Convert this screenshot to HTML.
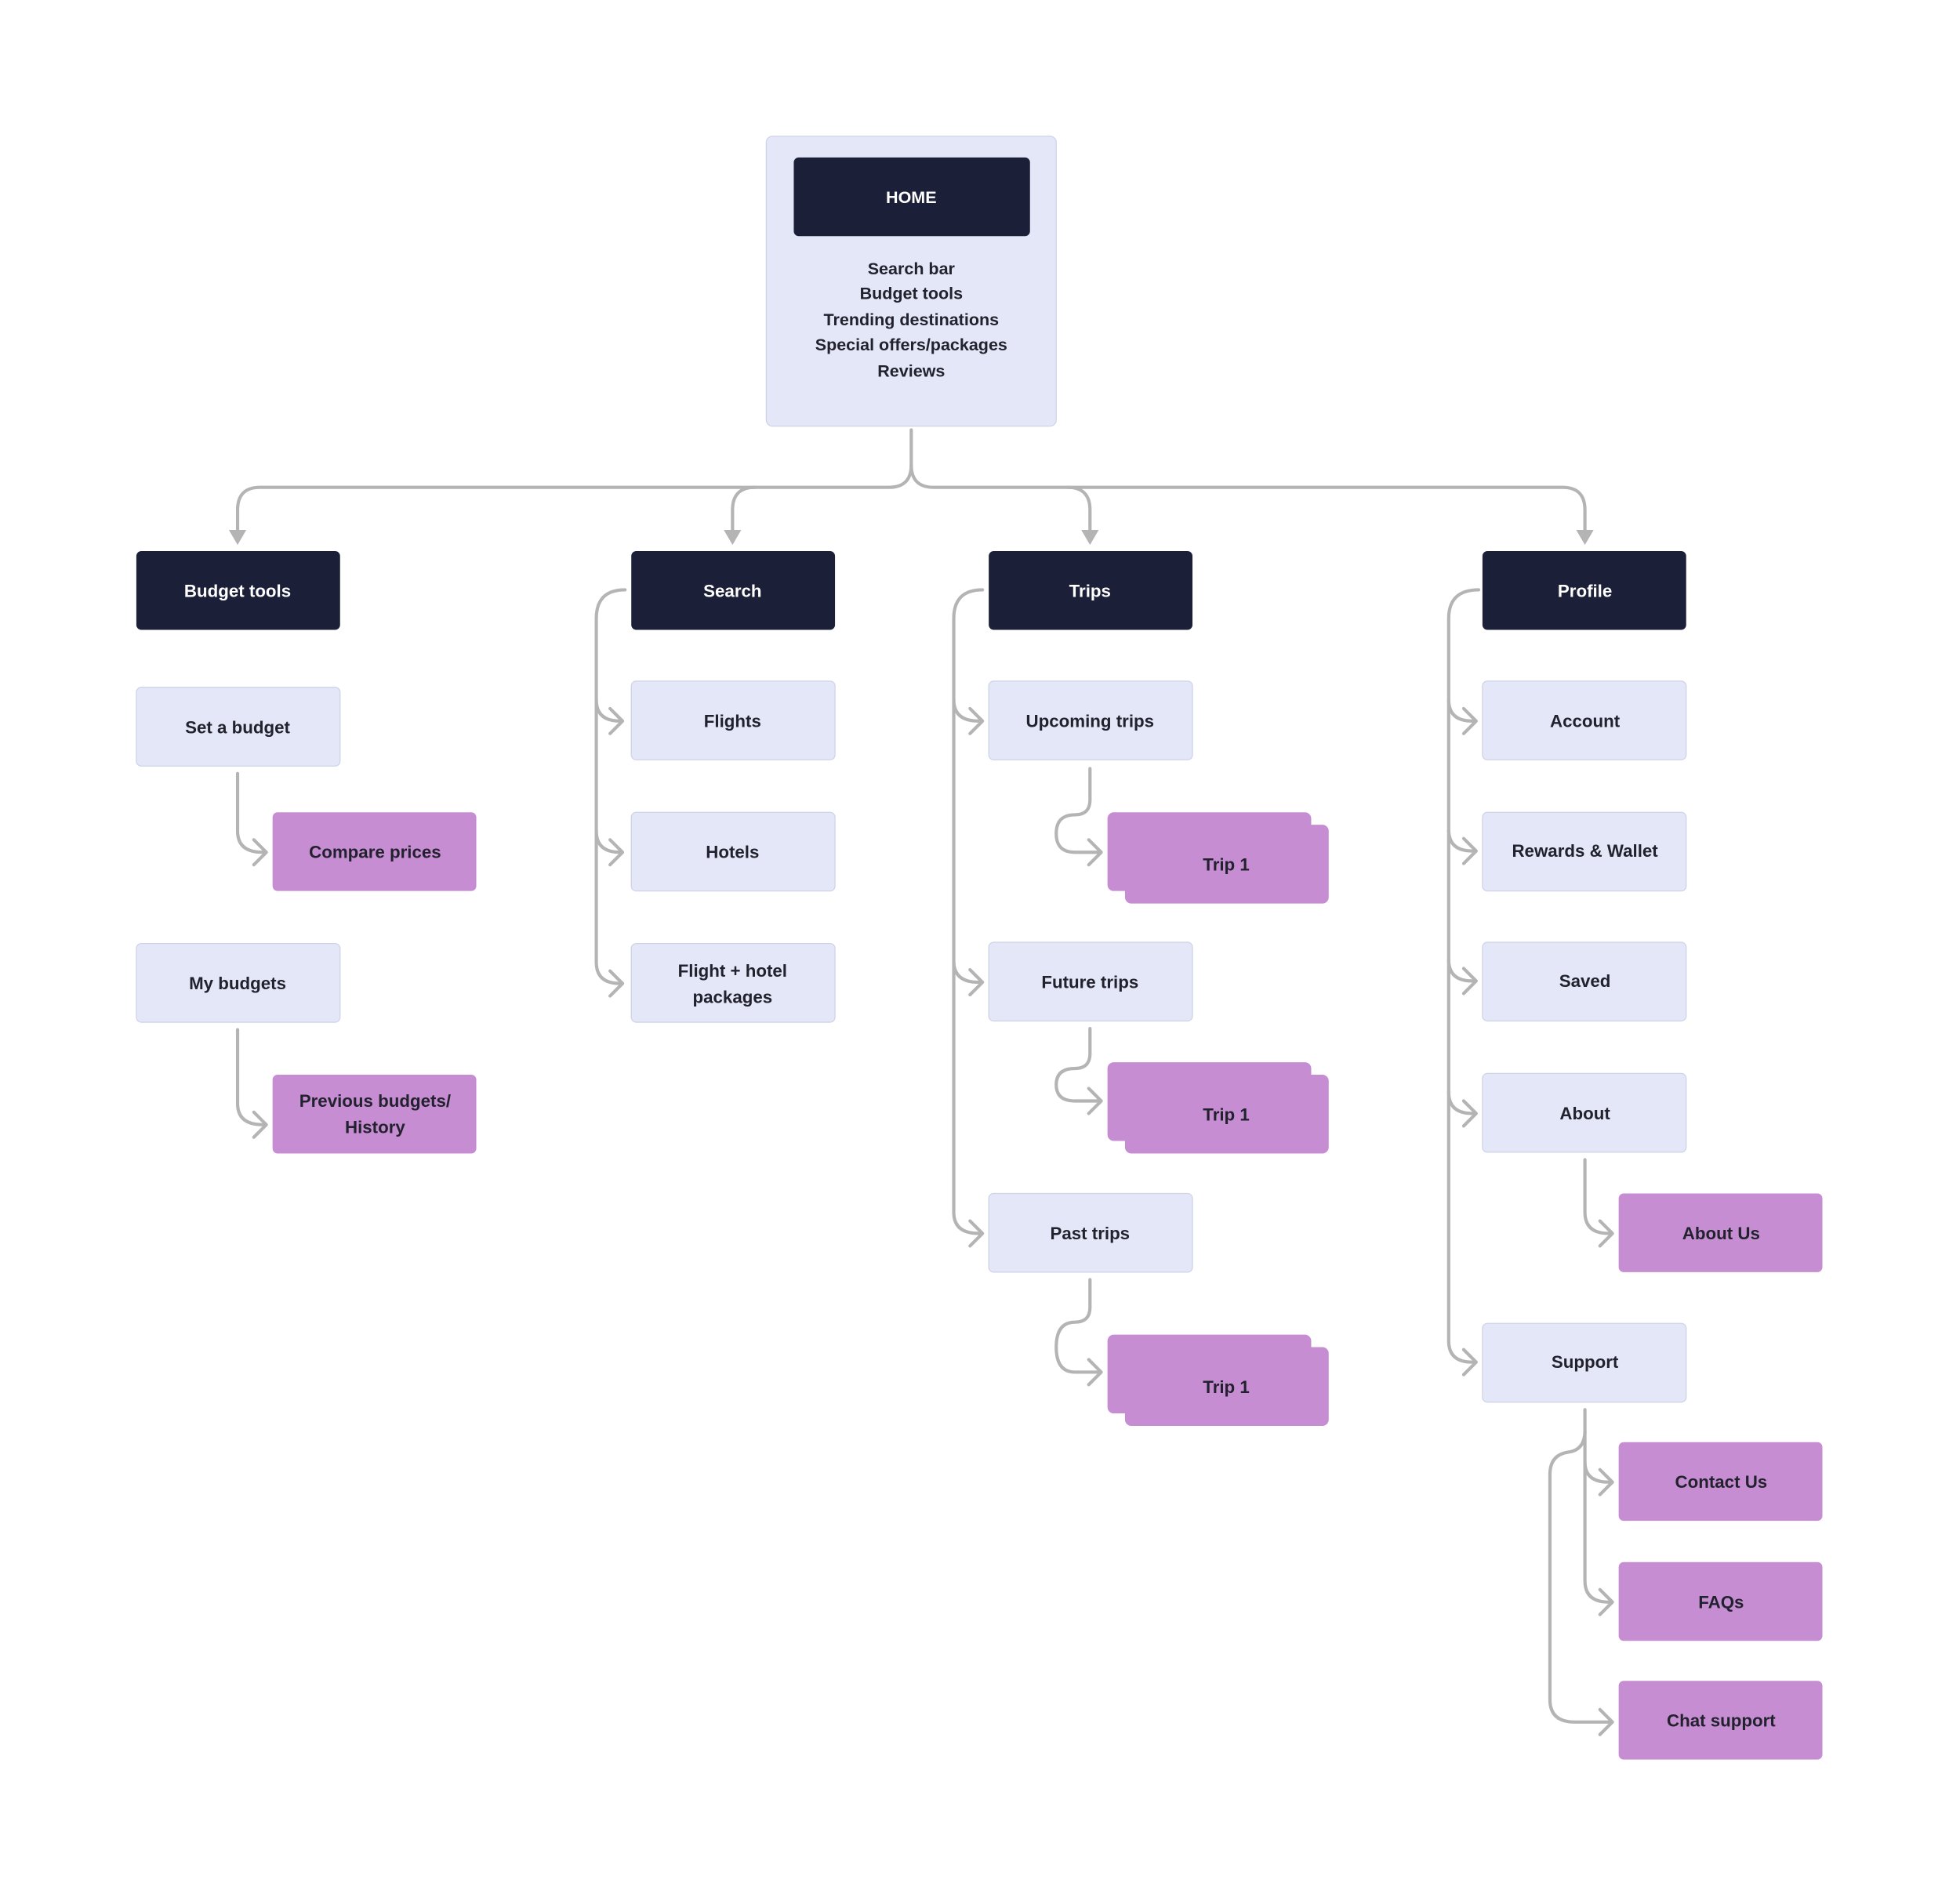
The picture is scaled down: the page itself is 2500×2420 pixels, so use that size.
<!DOCTYPE html>
<html><head><meta charset="utf-8"><style>
html,body{margin:0;padding:0;background:#fff;width:2500px;height:2420px;overflow:hidden}
text{font-family:"Liberation Sans",Arial,sans-serif;font-weight:bold;font-size:14px;text-anchor:middle;dominant-baseline:central}
.d{fill:#1c1f38}
.l{fill:#e4e7f8;stroke:#cfd3e6;stroke-width:0.8}
.p{fill:#c78dd3}
.c{fill:none;stroke:#b4b4b4;stroke-width:2.6;stroke-linecap:round;stroke-linejoin:round}
.tw{fill:#fff}
.tk{fill:#22222e}
</style></head><body>
<svg width="2500" height="2420" viewBox="0 0 1568 1518" xmlns="http://www.w3.org/2000/svg">
<!-- HOME -->
<rect class="l" x="613" y="109" width="232" height="232" rx="5"/>
<rect class="d" x="635" y="126" width="189" height="63" rx="4"/>
<text class="tw" x="729" y="158" style="font-size:13.5px">HOME</text>
<text class="tk" x="729" y="215" style="font-size:13.5px">Search bar</text>
<text class="tk" x="729" y="235" style="font-size:13.5px">Budget tools</text>
<text class="tk" x="729" y="256" style="font-size:13.5px">Trending destinations</text>
<text class="tk" x="729" y="276" style="font-size:13.5px">Special offers/packages</text>
<text class="tk" x="729" y="297" style="font-size:13.5px">Reviews</text>

<!-- top connectors -->
<path class="c" d="M729 344 V372 Q729 390 711 390 H208 Q190 390 190 408 V428"/>
<path class="c" d="M729 372 Q729 390 747 390 H1250 Q1268 390 1268 408 V428"/>
<path class="c" d="M604 390 Q586 390 586 408 V428"/>
<path class="c" d="M854 390 Q872 390 872 408 V428"/>
<polygon fill="#b4b4b4" points="183,424 197,424 190,436"/>
<polygon fill="#b4b4b4" points="579,424 593,424 586,436"/>
<polygon fill="#b4b4b4" points="865,424 879,424 872,436"/>
<polygon fill="#b4b4b4" points="1261,424 1275,424 1268,436"/>

<!-- Level 1 -->
<rect class="d" x="109" y="441" width="163" height="63" rx="4"/><text class="tw" x="190" y="473">Budget tools</text>
<rect class="d" x="505" y="441" width="163" height="63" rx="4"/><text class="tw" x="586" y="473">Search</text>
<rect class="d" x="791" y="441" width="163" height="63" rx="4"/><text class="tw" x="872" y="473">Trips</text>
<rect class="d" x="1186" y="441" width="163" height="63" rx="4"/><text class="tw" x="1268" y="473">Profile</text>

<!-- Budget tools -->
<rect class="l" x="109" y="550" width="163" height="63" rx="4"/><text class="tk" x="190" y="582">Set a budget</text>
<rect class="p" x="218" y="650" width="163" height="63" rx="4"/><text class="tk" x="300" y="682">Compare prices</text>
<rect class="l" x="109" y="755" width="163" height="63" rx="4"/><text class="tk" x="190" y="787">My budgets</text>
<rect class="p" x="218" y="860" width="163" height="63" rx="4"/><text class="tk" x="300" y="881">Previous budgets/</text><text class="tk" x="300" y="902">History</text>
<path class="c" d="M190 619 V665 Q190 682 210 682"/><path class="c" d="M203 672 L213 682 L203 692"/>
<path class="c" d="M190 824 V883 Q190 900 210 900"/><path class="c" d="M203 890 L213 900 L203 910"/>

<!-- Search -->
<rect class="l" x="505" y="545" width="163" height="63" rx="4"/><text class="tk" x="586" y="577">Flights</text>
<rect class="l" x="505" y="650" width="163" height="63" rx="4"/><text class="tk" x="586" y="682">Hotels</text>
<rect class="l" x="505" y="755" width="163" height="63" rx="4"/><text class="tk" x="586" y="777">Flight + hotel</text><text class="tk" x="586" y="798">packages</text>
<path class="c" d="M500 472 Q477 472 477 495 V770 Q477 787 496 787"/>
<path class="c" d="M477 560 Q477 577 496 577"/><path class="c" d="M477 665 Q477 682 496 682"/>
<path class="c" d="M488 567 L498 577 L488 587"/><path class="c" d="M488 672 L498 682 L488 692"/><path class="c" d="M488 777 L498 787 L488 797"/>

<!-- Trips -->
<rect class="l" x="791" y="545" width="163" height="63" rx="4"/><text class="tk" x="872" y="577">Upcoming trips</text>
<rect class="l" x="791" y="754" width="163" height="63" rx="4"/><text class="tk" x="872" y="786">Future trips</text>
<rect class="l" x="791" y="955" width="163" height="63" rx="4"/><text class="tk" x="872" y="987">Past trips</text>
<path class="c" d="M786 472 Q763 472 763 495 V970 Q763 987 783 987"/>
<path class="c" d="M763 560 Q763 577 783 577"/><path class="c" d="M763 769 Q763 786 783 786"/>
<path class="c" d="M776 567 L786 577 L776 587"/><path class="c" d="M776 776 L786 786 L776 796"/><path class="c" d="M776 977 L786 987 L776 997"/>

<g>
<rect class="p" x="886" y="650" width="163" height="63" rx="5"/><rect class="p" x="900" y="660" width="163" height="63" rx="5"/>
<text class="tk" x="981" y="692">Trip 1</text>
<path class="c" d="M872 615 V640 Q872 652 860 652 Q845 652 845 667 Q845 682 860 682 H879"/><path class="c" d="M871 672 L881 682 L871 692"/>
</g>
<g>
<rect class="p" x="886" y="850" width="163" height="63" rx="5"/><rect class="p" x="900" y="860" width="163" height="63" rx="5"/>
<text class="tk" x="981" y="892">Trip 1</text>
<path class="c" d="M872 823 V843 Q872 855 860 855 Q845 855 845 868 Q845 881 860 881 H879"/><path class="c" d="M871 871 L881 881 L871 891"/>
</g>
<g>
<rect class="p" x="886" y="1068" width="163" height="63" rx="5"/><rect class="p" x="900" y="1078" width="163" height="63" rx="5"/>
<text class="tk" x="981" y="1110">Trip 1</text>
<path class="c" d="M872 1024 V1046 Q872 1058 860 1058 Q845 1058 845 1078 Q845 1098 860 1098 H879"/><path class="c" d="M871 1088 L881 1098 L871 1108"/>
</g>

<!-- Profile -->
<rect class="l" x="1186" y="545" width="163" height="63" rx="4"/><text class="tk" x="1268" y="577">Account</text>
<rect class="l" x="1186" y="650" width="163" height="63" rx="4"/><text class="tk" x="1268" y="681">Rewards &amp; Wallet</text>
<rect class="l" x="1186" y="754" width="163" height="63" rx="4"/><text class="tk" x="1268" y="785">Saved</text>
<rect class="l" x="1186" y="859" width="163" height="63" rx="4"/><text class="tk" x="1268" y="891">About</text>
<rect class="l" x="1186" y="1059" width="163" height="63" rx="4"/><text class="tk" x="1268" y="1090">Support</text>
<path class="c" d="M1183 472 Q1159 472 1159 495 V1073 Q1159 1090 1178 1090"/>
<path class="c" d="M1159 560 Q1159 577 1178 577"/><path class="c" d="M1159 664 Q1159 681 1178 681"/>
<path class="c" d="M1159 768 Q1159 785 1178 785"/><path class="c" d="M1159 874 Q1159 891 1178 891"/>
<path class="c" d="M1171 567 L1181 577 L1171 587"/><path class="c" d="M1171 671 L1181 681 L1171 691"/><path class="c" d="M1171 775 L1181 785 L1171 795"/><path class="c" d="M1171 881 L1181 891 L1171 901"/><path class="c" d="M1171 1080 L1181 1090 L1171 1100"/>

<rect class="p" x="1295" y="955" width="163" height="63" rx="4"/><text class="tk" x="1377" y="987">About Us</text>
<path class="c" d="M1268 928 V970 Q1268 987 1287 987"/><path class="c" d="M1280 977 L1290 987 L1280 997"/>

<rect class="p" x="1295" y="1154" width="163" height="63" rx="4"/><text class="tk" x="1377" y="1186">Contact Us</text>
<rect class="p" x="1295" y="1250" width="163" height="63" rx="4"/><text class="tk" x="1377" y="1282">FAQs</text>
<rect class="p" x="1295" y="1345" width="163" height="63" rx="4"/><text class="tk" x="1377" y="1377">Chat support</text>
<path class="c" d="M1268 1128 V1265 Q1268 1282 1287 1282"/>
<path class="c" d="M1268 1170 Q1268 1186 1287 1186"/>
<path class="c" d="M1268 1145 Q1268 1160 1255 1162 Q1240 1164 1240 1180 V1360 Q1240 1378 1260 1378 H1288"/>
<path class="c" d="M1280 1176 L1290 1186 L1280 1196"/><path class="c" d="M1280 1272 L1290 1282 L1280 1292"/><path class="c" d="M1280 1368 L1290 1378 L1280 1388"/>
</svg>
</body></html>
